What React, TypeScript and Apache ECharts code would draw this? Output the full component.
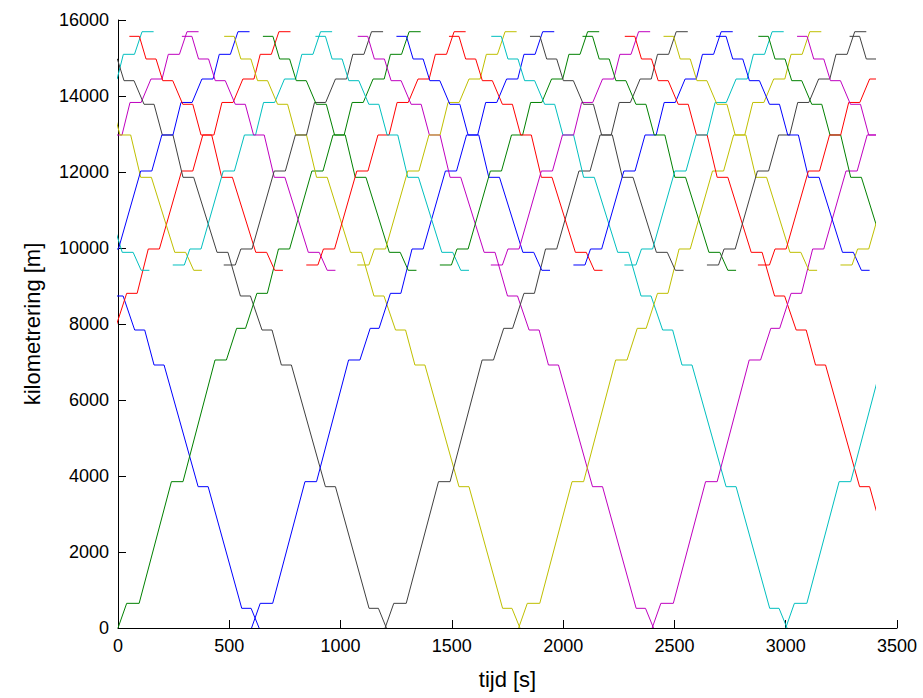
import React, { useEffect, useRef } from "react";
import * as echarts from "echarts";

// ---- axes ----
const xTicks = [0, 500, 1000, 1500, 2000, 2500, 3000, 3500];
const yTicks = [0, 2000, 4000, 6000, 8000, 10000, 12000, 14000, 16000];
const simEnd = 3400; // simulation window end [s]

// ---- MATLAB (pre-2014) colour order ----
const palette: Record<string, string> = {
  b: "#0000ff",
  g: "#008000",
  r: "#ff0000",
  c: "#00bfbf",
  m: "#bf00bf",
  y: "#bfbf00",
  k: "#404040",
};

// ---- long trip upwards (0 -> 15692): stop position, arrival, departure (s after start) ----
const luPos = [0, 649, 3851, 7053, 7886, 8807, 9974, 12026, 12974, 13830, 14447, 15097, 15692];
const luArr = [0, 39, 240, 436, 533, 624, 721, 871, 966, 1052, 1146, 1224, 1308];
const luDep = [0, 95, 292, 487, 573, 671, 771, 921, 1016, 1102, 1196, 1274, 1360];

// ---- short trip upwards (9553 -> 15692) ----
const suPos = [9553, 9974, 12026, 12974, 13830, 14447, 15097, 15692];
const suArr = [-52, 25, 175, 270, 356, 450, 528, 612];
const suDep = [0, 75, 225, 320, 406, 500, 578, 664];

// ---- long trip downwards (15570 -> 0) ----
const ldPos = [15570, 14974, 14403, 13782, 12974, 11860, 9886, 8737, 7842, 6921, 3719, 518, 0];
const ldArr = [-45, 30, 105, 195, 277, 370, 523, 628, 725, 812, 1010, 1206, 1284];
const ldDep = [0, 75, 150, 240, 325, 418, 572, 673, 770, 857, 1055, 1248, 1284];

// ---- short trip downwards (15570 -> 9413) ----
const sdPos = [15570, 14974, 14403, 13782, 12974, 11860, 9886, 9413];
const sdArr = [-45, 30, 105, 195, 277, 370, 523, 608];
const sdDep = [0, 75, 150, 240, 325, 418, 572, 645];

// ---- trips: start times [s] and colour codes ----
const luStarts = [-1200, -585, 0, 600, 1200, 1800, 2400, 3000];
const luColors = ["c", "r", "g", "b", "k", "y", "m", "c"];

const ldStarts = [-650, -78, 522, 1122, 1722, 2322, 2922];
const ldColors = ["b", "k", "y", "m", "c", "r", "g"];

const suStarts = [-302, -73, 298, 527, 898, 1127, 1498, 1727, 2098, 2327, 2698, 2927, 3298];
const suColors = ["m", "b", "c", "k", "r", "y", "g", "m", "b", "c", "k", "r", "y"];

const sdStarts = [-504, -268, 96, 332, 696, 932, 1296, 1532, 1896, 2132, 2496, 2732, 3096, 3332];
const sdColors = ["c", "y", "r", "m", "g", "c", "b", "r", "k", "g", "y", "b", "m", "k"];

const FONT = "'Liberation Sans', Arial, Helvetica, sans-serif";

type Profile = { pos: number[]; arr: number[]; dep: number[] };

function tripPoints(p: Profile, t0: number): number[][] {
  const pts: number[][] = [];
  for (let i = 0; i < p.pos.length; i++) {
    pts.push([t0 + p.arr[i], p.pos[i]]);
    if (p.dep[i] !== p.arr[i]) pts.push([t0 + p.dep[i], p.pos[i]]);
  }
  return pts;
}

function buildSeries() {
  const LU: Profile = { pos: luPos, arr: luArr, dep: luDep };
  const SU: Profile = { pos: suPos, arr: suArr, dep: suDep };
  const LD: Profile = { pos: ldPos, arr: ldArr, dep: ldDep };
  const SD: Profile = { pos: sdPos, arr: sdArr, dep: sdDep };
  const trips: { p: Profile; t: number; c: string }[] = [];
  luStarts.forEach((t, i) => trips.push({ p: LU, t, c: luColors[i] }));
  ldStarts.forEach((t, i) => trips.push({ p: LD, t, c: ldColors[i] }));
  suStarts.forEach((t, i) => trips.push({ p: SU, t, c: suColors[i] }));
  sdStarts.forEach((t, i) => trips.push({ p: SD, t, c: sdColors[i] }));
  trips.sort((a, b) => a.t - b.t);
  return trips.map((tr) => ({
    type: "line",
    xAxisIndex: 1,
    yAxisIndex: 1,
    data: tripPoints(tr.p, tr.t),
    showSymbol: false,
    symbol: "none",
    clip: true,
    silent: true,
    lineStyle: { color: palette[tr.c], width: 1 },
    itemStyle: { color: palette[tr.c] },
  }));
}

export default function App() {
  const ref = useRef<HTMLDivElement>(null);
  useEffect(() => {
    document.body.style.margin = "0";
    if (!ref.current) return;
    const chart = echarts.init(ref.current, undefined, { renderer: "svg" });
    const plotLeft = 118;
    const plotTop = 20;
    const plotW = 779;
    const plotH = 608;
    const axisCommon = {
      axisLine: { show: true, lineStyle: { color: "#000", width: 1 } },
      axisTick: { show: true, inside: true, length: 8, lineStyle: { color: "#000", width: 1 } },
      splitLine: { show: false },
    };
    const plain = (v: number) => String(v);
    chart.setOption({
      animation: false,
      backgroundColor: "#fff",
      grid: [
        { left: plotLeft, top: plotTop, width: plotW, height: plotH },
        { left: plotLeft, top: plotTop, width: (plotW * simEnd) / 3500, height: plotH },
      ],
      xAxis: [
        {
          gridIndex: 0,
          type: "value",
          min: xTicks[0],
          max: xTicks[xTicks.length - 1],
          interval: 500,
          ...axisCommon,
          axisLabel: { color: "#000", fontSize: 18, fontFamily: FONT, margin: 9, formatter: plain },
          name: "tijd [s]",
          nameLocation: "middle",
          nameGap: 40,
          nameTextStyle: { color: "#000", fontSize: 22, fontFamily: FONT },
        },
        { gridIndex: 1, type: "value", min: 0, max: simEnd, show: false },
      ],
      yAxis: [
        {
          gridIndex: 0,
          type: "value",
          min: yTicks[0],
          max: yTicks[yTicks.length - 1],
          interval: 2000,
          ...axisCommon,
          axisLabel: { color: "#000", fontSize: 18, fontFamily: FONT, margin: 9, formatter: plain },
          name: "kilometrering [m]",
          nameLocation: "middle",
          nameGap: 75,
          nameRotate: 90,
          nameTextStyle: { color: "#000", fontSize: 22, fontFamily: FONT },
        },
        { gridIndex: 1, type: "value", min: 0, max: 16000, show: false },
      ],
      series: buildSeries(),
    });
    return () => chart.dispose();
  }, []);
  return <div ref={ref} style={{ width: 923, height: 698 }} />;
}
